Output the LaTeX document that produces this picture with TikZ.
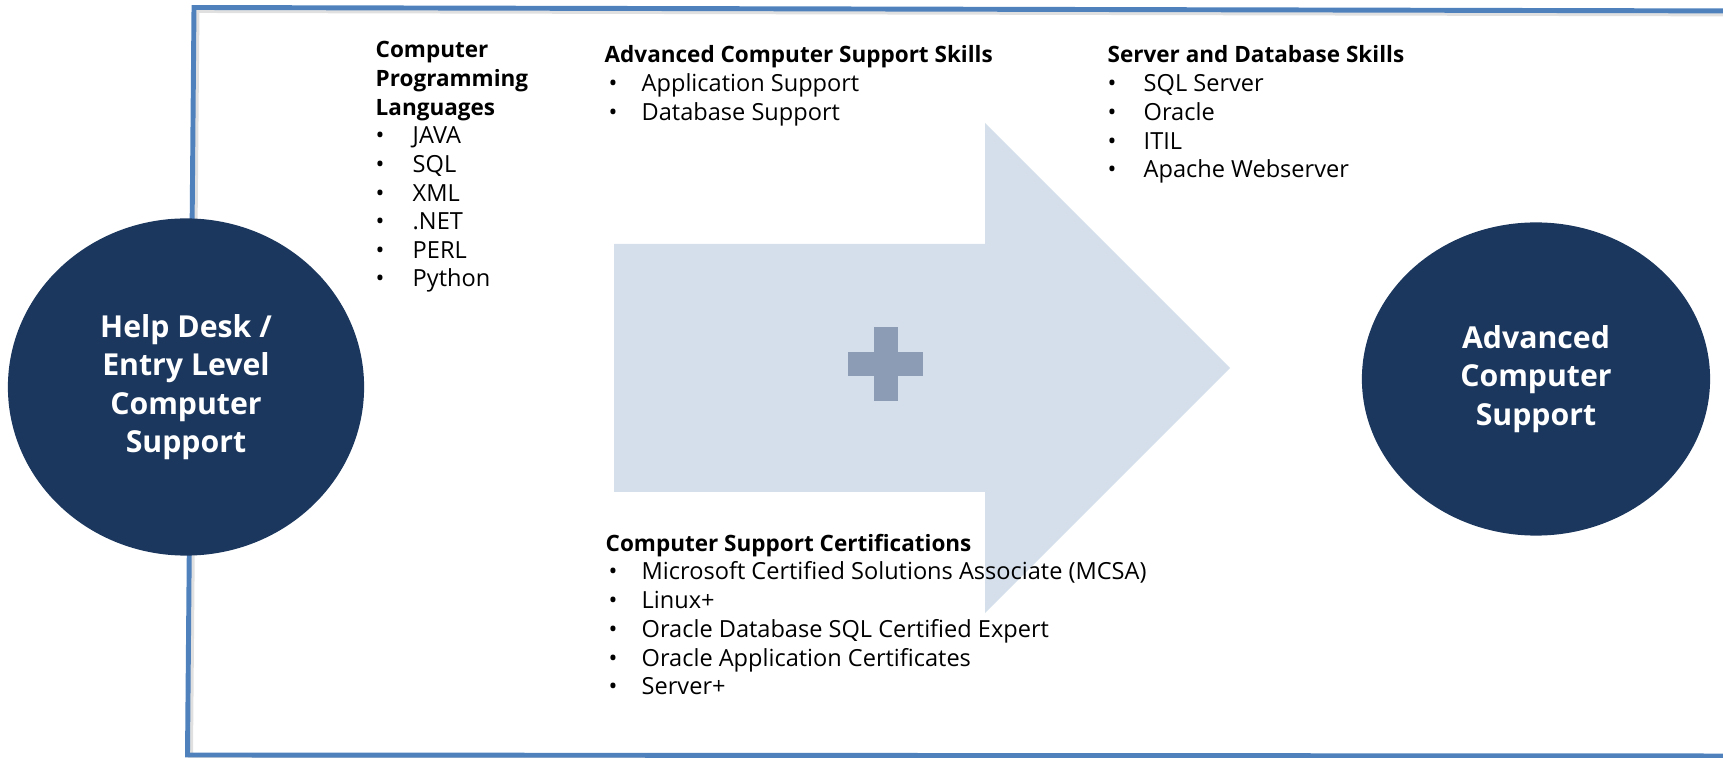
\documentclass[tikz,border=0pt]{standalone}
\usepackage{fontspec}
\setmainfont{Open Sans}
\usetikzlibrary{shapes.geometric}

\definecolor{framebl}{HTML}{4F81BD}
\definecolor{hubnavy}{HTML}{1B375E}
\definecolor{arrowfill}{HTML}{D5DFEB}
\definecolor{plusfill}{HTML}{8C9CB4}

\tikzset{
  hub/.style={ellipse, fill=hubnavy, text=white, align=center, inner sep=0pt,
    font=\bfseries\fontsize{8.6pt}{10.95pt}\selectfont},
  head/.style={anchor=base west, inner sep=0pt, font=\bfseries\fontsize{6.4pt}{8pt}\selectfont},
  skill/.style={anchor=base west, inner sep=0pt, font=\fontsize{6.7pt}{8pt}\selectfont},
}
\newcommand{\bul}[1][0.33cm]{\makebox[#1][l]{\textbullet}}

\begin{document}
\begin{tikzpicture}[x=0.01cm, y=-0.01cm]
    \useasboundingbox (0,0) rectangle (1723,758);
    \clip (0,0) rectangle (1723,758);

    % Frame (open to the right)
    \draw[black, opacity=0.12, line width=1.4pt, xshift=0.03cm, yshift=-0.03cm]
        (1760,11) -- (194,7.5) -- (187.5,755) -- (1760,756);
    \draw[framebl, line width=1.4pt] (1760,11) -- (194,7.5) -- (187.5,755) -- (1760,756);

    % Big arrow
    \fill[arrowfill] (614,244) -- (985,244) -- (985,123) -- (1230,368)
        -- (985,613) -- (985,492) -- (614,492) -- cycle;

    % Plus sign
    \fill[plusfill] (874,327) rectangle (898,401);
    \fill[plusfill] (848,352) rectangle (923,376);

    % Computer programming languages
    \foreach \lbl [count=\i from 0] in {Computer, Programming, Languages}
        \node[head] (lang-h\i) at (375, 58+28.6*\i) {\lbl};
    \foreach \lbl [count=\i from 0] in {JAVA, SQL, XML, .NET, PERL, Python}
        \node[skill] (lang-\i) at (375, 144+28.6*\i) {\bul[0.37cm]\lbl};

    % Advanced computer support skills
    \node[head] (adv-h) at (604,63) {Advanced Computer Support Skills};
    \foreach \lbl [count=\i from 0] in {Application Support, Database Support}
        \node[skill] (adv-\i) at (608, 92+28.6*\i) {\bul\lbl};

    % Server and database skills
    \node[head] (srv-h) at (1107,63) {Server and Database Skills};
    \foreach \lbl [count=\i from 0] in {SQL Server, Oracle, ITIL, Apache Webserver}
        \node[skill] (srv-\i) at (1107, 92+28.6*\i) {\bul[0.36cm]\lbl};

    % Certifications
    \node[head] (cert-h) at (605,552) {Computer Support Certifications};
    \foreach \lbl [count=\i from 0] in {Microsoft Certified Solutions Associate (MCSA),
        Linux+, Oracle Database SQL Certified Expert, Oracle Application Certificates, Server+}
        \node[skill] (cert-\i) at (608, 580+28.7*\i) {\bul\lbl};

    % Start and goal
    \node[hub, minimum width=3.56cm, minimum height=3.37cm] (entry) at (186,387)
        {Help Desk /\\Entry Level\\Computer\\Support};
    \node[hub, minimum width=3.48cm, minimum height=3.13cm] (advanced) at (1536,379)
        {Advanced\\Computer\\Support};
\end{tikzpicture}
\end{document}
